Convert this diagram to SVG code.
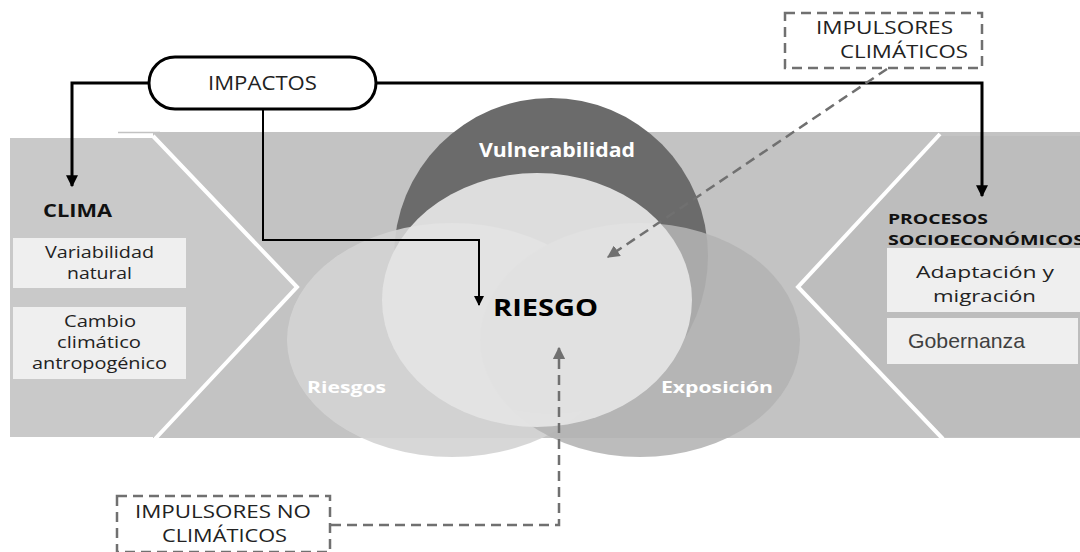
<svg xmlns="http://www.w3.org/2000/svg" width="1080" height="552" viewBox="0 0 1080 552">
<defs>
<style>
.sans{font-family:"Open Sans","Noto Sans","DejaVu Sans",sans-serif}
.wlab{font-family:"Open Sans","Noto Sans",sans-serif;font-weight:bold;fill:#ffffff}
.box{fill:#efefef}
.btxt{font-family:"Open Sans","Noto Sans",sans-serif;font-size:16px;fill:#222;text-anchor:middle}
.conn{fill:none;stroke:#000;stroke-width:3}
.dash{fill:none;stroke:#707070;stroke-width:2.5;stroke-dasharray:10 6}
.dbox{fill:#ffffff;stroke:#707070;stroke-width:2.5;stroke-dasharray:10 6}
</style>
<marker id="ah" viewBox="0 0 10 10" refX="9" refY="5" markerWidth="4" markerHeight="4" orient="auto-start-reverse" markerUnits="strokeWidth">
<path d="M0,0 L10,5 L0,10 z" fill="#000"/>
</marker>
<marker id="ahs" viewBox="0 0 10 10" refX="9" refY="5" markerWidth="5" markerHeight="5" orient="auto-start-reverse" markerUnits="strokeWidth">
<path d="M0,0 L10,5 L0,10 z" fill="#000"/>
</marker>
<marker id="ahd" viewBox="0 0 10 10" refX="9" refY="5" markerWidth="5" markerHeight="5" orient="auto-start-reverse" markerUnits="strokeWidth">
<path d="M0,0 L10,5 L0,10 z" fill="#707070"/>
</marker>
</defs>
<rect width="1080" height="552" fill="#ffffff"/>
<g id="background">
<line x1="118" y1="132.5" x2="160" y2="132.5" stroke="#c2c2c2" stroke-width="1.5"/>
<rect x="153" y="132" width="927" height="306" fill="#c3c3c3"/>
<polygon points="10,138 153,138 297,287 155,437 10,437" fill="#c9c9c9"/>
<polygon points="940,136 1080,136 1080,437 943,437 798,287" fill="#bdbdbd"/>
<polyline points="153,136 297,287 155,439" fill="none" stroke="#ffffff" stroke-width="4"/>
<polyline points="940,134 798,287 943,439" fill="none" stroke="#ffffff" stroke-width="4"/>
</g>
<g id="venn">
<g id="vulnerabilidad">
<ellipse cx="551" cy="256" rx="157" ry="158" fill="#6b6b6b"/>
<text class="wlab" x="557" y="157" font-size="19.5" text-anchor="middle" textLength="156" lengthAdjust="spacingAndGlyphs">Vulnerabilidad</text>
</g>
<g id="riesgos">
<ellipse cx="452" cy="340" rx="165" ry="117" fill="#d4d4d4" opacity="0.92"/>
</g>
<g id="exposicion">
<ellipse cx="640" cy="340" rx="160" ry="117" fill="#b3b3b3" opacity="0.88"/>
</g>
<g id="riesgo">
<ellipse cx="537" cy="300" rx="155" ry="127" fill="#e4e4e4" opacity="0.95"/>
<text class="sans" x="545.5" y="316" font-size="23" font-weight="bold" fill="#000" text-anchor="middle" textLength="105" lengthAdjust="spacingAndGlyphs">RIESGO</text>
</g>
<text class="wlab" x="346.5" y="393" font-size="16" text-anchor="middle" textLength="79" lengthAdjust="spacingAndGlyphs">Riesgos</text>
<text class="wlab" x="717" y="393" font-size="16" text-anchor="middle" textLength="112" lengthAdjust="spacingAndGlyphs">Exposición</text>
</g>
<g id="clima">
<text class="sans" x="43" y="217" font-size="18.5" font-weight="bold" fill="#111" textLength="69" lengthAdjust="spacingAndGlyphs">CLIMA</text>
<g id="variabilidad">
<rect class="box" x="13" y="238" width="173" height="50"/>
<text class="btxt" x="99.5" y="258" textLength="109" lengthAdjust="spacingAndGlyphs">Variabilidad</text>
<text class="btxt" x="99.5" y="279" textLength="65" lengthAdjust="spacingAndGlyphs">natural</text>
</g>
<g id="cambio">
<rect class="box" x="13" y="307" width="173" height="72"/>
<text class="btxt" x="100" y="327" textLength="72" lengthAdjust="spacingAndGlyphs">Cambio</text>
<text class="btxt" x="99" y="348" textLength="84" lengthAdjust="spacingAndGlyphs">climático</text>
<text class="btxt" x="99.5" y="369" textLength="135" lengthAdjust="spacingAndGlyphs">antropogénico</text>
</g>
</g>
<g id="procesos">
<text class="sans" x="888" y="224" font-size="15" font-weight="bold" fill="#111" textLength="100" lengthAdjust="spacingAndGlyphs">PROCESOS</text>
<text class="sans" x="888" y="245" font-size="15" font-weight="bold" fill="#111" textLength="196" lengthAdjust="spacingAndGlyphs">SOCIOECONÓMICOS</text>
<g id="adaptacion">
<rect class="box" x="887" y="248" width="193" height="64"/>
<text class="btxt" x="985" y="278" font-size="19.5" textLength="138" lengthAdjust="spacingAndGlyphs">Adaptación y</text>
<text class="btxt" x="984.5" y="302" font-size="19.5" textLength="103" lengthAdjust="spacingAndGlyphs">migración</text>
</g>
<g id="gobernanza">
<rect class="box" x="887" y="318" width="191" height="46"/>
<text x="908" y="348" font-family="Liberation Sans, Arial, sans-serif" font-size="21" fill="#404040" textLength="117" lengthAdjust="spacingAndGlyphs">Gobernanza</text>
</g>
</g>
<g id="connectors">
<polyline class="conn" points="149,83 72,83 72,186" marker-end="url(#ah)"/>
<polyline class="conn" points="376,83 982,83 982,196" marker-end="url(#ah)"/>
<polyline fill="none" stroke="#000" stroke-width="2" points="263,109 263,240 479,240 479,305" marker-end="url(#ahs)"/>
<line class="dash" x1="887" y1="69" x2="608" y2="257" marker-end="url(#ahd)"/>
<polyline class="dash" points="331,525 559,525 559,348" marker-end="url(#ahd)"/>
</g>
<g id="impactos">
<rect x="149" y="57" width="227" height="52" rx="26" fill="#ffffff" stroke="#000" stroke-width="3"/>
<text class="sans" x="262.5" y="90" font-size="19.5" fill="#222" text-anchor="middle" textLength="109" lengthAdjust="spacingAndGlyphs">IMPACTOS</text>
</g>
<g id="impulsores-climaticos">
<rect class="dbox" x="785" y="13" width="197" height="55"/>
<text class="sans" x="884.5" y="34" font-size="18" fill="#222" text-anchor="middle" textLength="137" lengthAdjust="spacingAndGlyphs">IMPULSORES</text>
<text class="sans" x="904" y="58" font-size="18" fill="#222" text-anchor="middle" textLength="128" lengthAdjust="spacingAndGlyphs">CLIMÁTICOS</text>
</g>
<g id="impulsores-no-climaticos">
<rect class="dbox" x="117" y="496" width="213" height="56"/>
<text class="sans" x="223" y="518" font-size="18" fill="#222" text-anchor="middle" textLength="176" lengthAdjust="spacingAndGlyphs">IMPULSORES NO</text>
<text class="sans" x="224.5" y="542" font-size="18" fill="#222" text-anchor="middle" textLength="125" lengthAdjust="spacingAndGlyphs">CLIMÁTICOS</text>
</g>
</svg>
